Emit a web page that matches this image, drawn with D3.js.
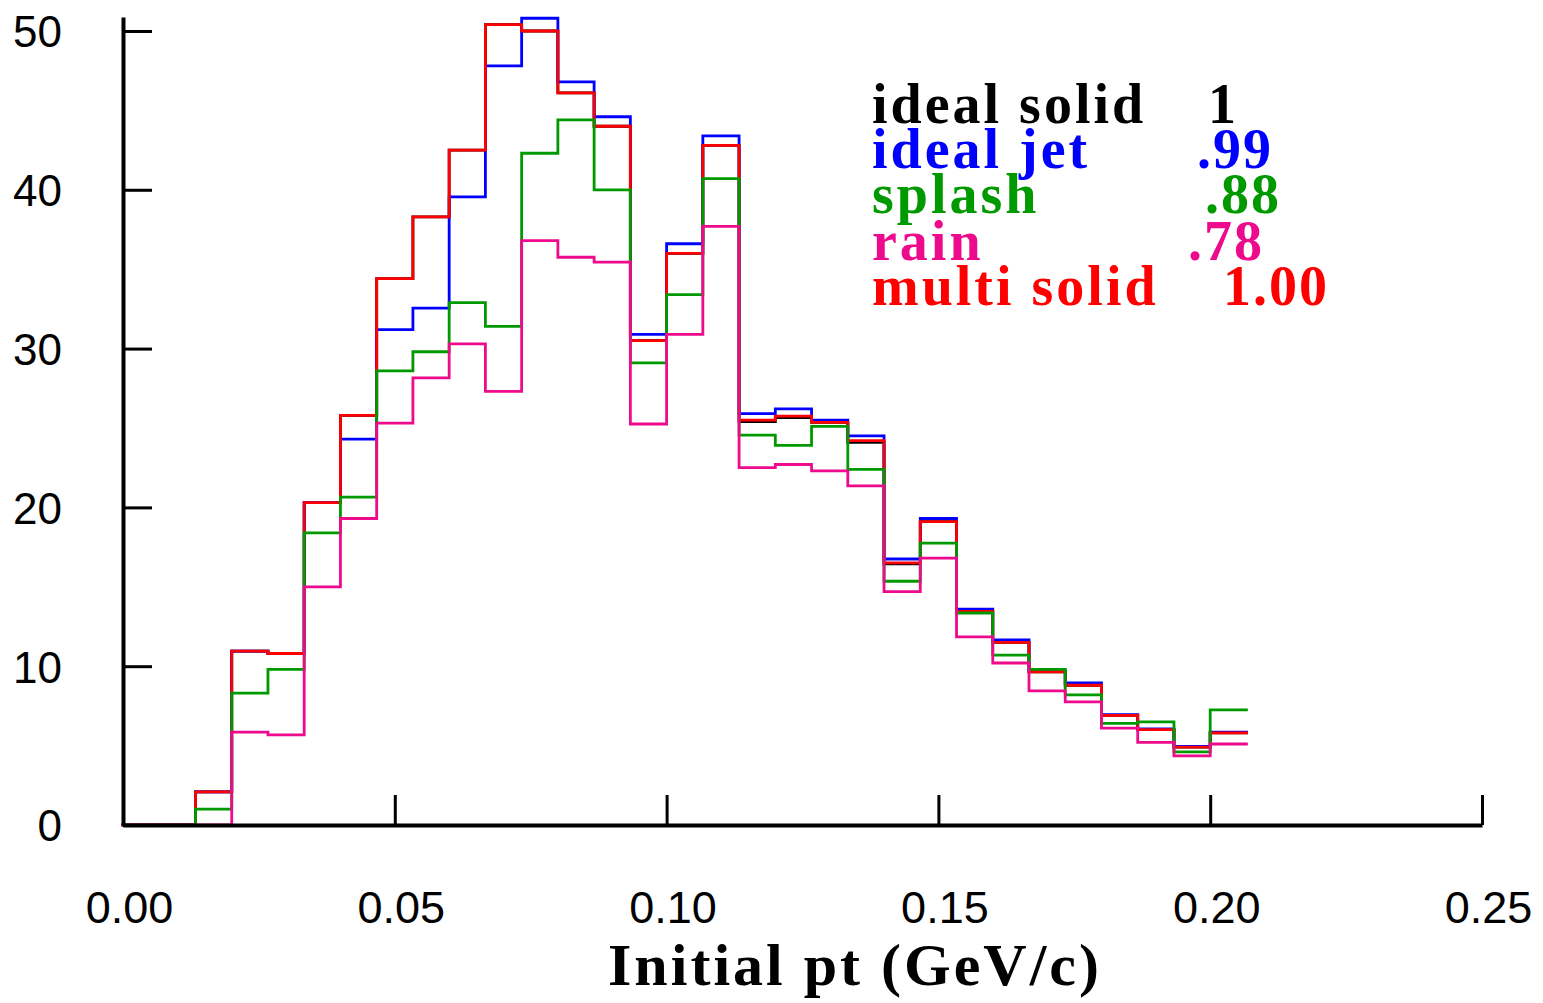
<!DOCTYPE html>
<html>
<head>
<meta charset="utf-8">
<script src="https://cdn.jsdelivr.net/npm/d3@7"></script>
<style>
  html, body { margin: 0; padding: 0; background: #fff; }
  svg { display: block; }
</style>
</head>
<body>
<svg id="chart" width="1543" height="1003"></svg>
<script>
// ---- data ----
const binWidth = 1 / 150;
const binCount = 31;
const xTicks = [0, 0.05, 0.10, 0.15, 0.20, 0.25];
const yTicks = [0, 10, 20, 30, 40, 50];

const idealSolid = [0,0,2.08,10.95,10.8,20.3,25.8,34.4,38.3,42.5,50.4,50.0,46.1,44.0,30.5,36.0,42.8,25.4,25.65,25.35,24.1,16.45,19.1,13.45,11.5,9.65,8.8,6.9,6.0,4.9,5.8];
const idealJet   = [0,0,2.08,10.95,10.8,20.3,24.3,31.2,32.55,39.55,47.8,50.8,46.8,44.6,30.9,36.6,43.4,25.9,26.2,25.5,24.5,16.75,19.3,13.6,11.65,9.7,8.95,6.95,6.05,4.95,5.85];
const splash     = [0,0,1.0,8.3,9.8,18.4,20.65,28.6,29.8,32.9,31.4,42.3,44.4,40.0,29.1,33.4,40.7,24.55,23.9,25.1,22.4,15.35,17.75,13.35,10.7,9.8,8.2,6.4,6.5,4.6,7.25];
const rain       = [0,0,0,5.85,5.67,15.0,19.3,25.3,28.15,30.3,27.3,36.8,35.75,35.45,25.25,30.9,37.7,22.5,22.7,22.3,21.35,14.7,16.8,11.85,10.2,8.45,7.75,6.1,5.2,4.35,5.1];
const multiSolid = [0,0,2.08,10.95,10.8,20.3,25.8,34.4,38.3,42.5,50.4,50.0,46.1,44.0,30.5,36.0,42.8,25.5,25.75,25.35,24.2,16.5,19.1,13.45,11.5,9.65,8.8,6.9,6.0,4.9,5.8];

const seriesNames  = ["ideal solid", "ideal jet", "splash", "rain", "multi solid"];
const seriesValues = [idealSolid, idealJet, splash, rain, multiSolid];
const seriesLabels = ["1", ".99", ".88", ".78", "1.00"];
const seriesColors = ["#000000", "#0000ff", "#009900", "#ee0a8c", "#ff0000"];
// draw order (bottom to top)
const drawOrder = [0, 1, 4, 2, 3];

// ---- layout ----
const svg = d3.select("#chart");
const x = d3.scaleLinear().domain([0, 0.25]).range([123, 1482]);
const y = d3.scaleLinear().domain([0, 50.88]).range([825, 17]);

// ---- histograms ----
const line = d3.line().x(d => x(d[0])).y(d => y(d[1])).curve(d3.curveStepAfter);
drawOrder.forEach(k => {
  const vals = seriesValues[k];
  const pts = vals.map((v, i) => [i * binWidth, v]);
  pts.push([binCount * binWidth, vals[vals.length - 1]]);
  svg.append("path")
    .attr("d", line(pts))
    .attr("fill", "none")
    .attr("stroke", seriesColors[k])
    .attr("stroke-width", 2.8)
    .attr("stroke-linejoin", "miter")
    .attr("stroke-linecap", "square");
});

// ---- axes ----
const yAxis = d3.axisLeft(y).tickValues(yTicks).tickSizeInner(-29).tickSizeOuter(0).tickPadding(61).tickFormat(d3.format("d"));
const gy = svg.append("g").attr("transform", "translate(123,0)").call(yAxis);
gy.select(".domain").attr("stroke", "#000").attr("stroke-width", 4);
gy.selectAll(".tick line").attr("stroke", "#000").attr("stroke-width", 3);
gy.selectAll(".tick text")
  .attr("font-family", "Liberation Sans, Arial, sans-serif")
  .attr("font-size", 44)
  .attr("fill", "#000")
  .attr("x", -61)
  .attr("dy", "0.36em");

const xAxis = d3.axisBottom(x).tickValues(xTicks).tickSizeInner(-30).tickSizeOuter(0).tickFormat(d3.format(".2f"));
const gx = svg.append("g").attr("transform", "translate(0,825)").call(xAxis);
gx.select(".domain").attr("stroke", "#000").attr("stroke-width", 4);
gx.selectAll(".tick line").attr("stroke", "#000").attr("stroke-width", 3);
gx.selectAll(".tick text")
  .attr("font-family", "Liberation Sans, Arial, sans-serif")
  .attr("font-size", 45)
  .attr("fill", "#000")
  .attr("x", 6)
  .attr("y", 98)
  .attr("dy", 0);

svg.append("text")
  .attr("x", 855)
  .attr("y", 985)
  .attr("text-anchor", "middle")
  .attr("font-family", "Liberation Serif, serif")
  .attr("font-weight", "bold")
  .attr("font-size", 60)
  .attr("letter-spacing", 3)
  .attr("fill", "#000")
  .text("Initial pt (GeV/c)");

// ---- legend ----
const legendBaselines = [123, 168, 213, 260, 305];
const legendNumX = [1208, 1197, 1205, 1188, 1223];
seriesNames.forEach((name, i) => {
  svg.append("text")
    .attr("x", 872).attr("y", legendBaselines[i])
    .attr("font-family", "Liberation Serif, serif")
    .attr("font-weight", "bold")
    .attr("font-size", 56)
    .attr("letter-spacing", 3)
    .attr("fill", seriesColors[i])
    .text(name);
  svg.append("text")
    .attr("x", legendNumX[i]).attr("y", legendBaselines[i])
    .attr("font-family", "Liberation Serif, serif")
    .attr("font-weight", "bold")
    .attr("font-size", 56)
    .attr("letter-spacing", 2)
    .attr("fill", seriesColors[i])
    .text(seriesLabels[i]);
});
</script>
</body>
</html>
